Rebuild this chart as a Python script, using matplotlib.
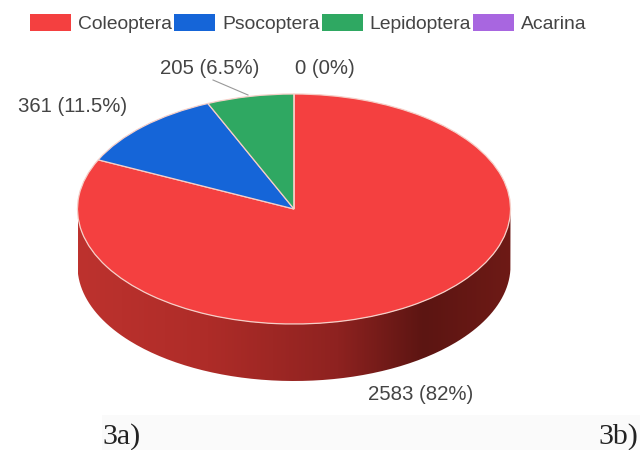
import numpy as np
import matplotlib
matplotlib.use("Agg")
import matplotlib.pyplot as plt
from matplotlib.patches import Patch, PathPatch, Rectangle
from matplotlib.path import Path
from matplotlib.colors import LinearSegmentedColormap

categories = ["Coleoptera", "Psocoptera", "Lepidoptera", "Acarina"]
values = [2583, 361, 205, 0]
data_labels = ["2583 (82%)", "361 (11.5%)", "205 (6.5%)", "0 (0%)"]
colors = ["#f44040", "#1565d8", "#2fa862", "#a866e0"]

W, H = 644, 450
cx, cy, rx, ry, depth = 294, 209, 216.5, 115, 57

plt.rcParams["font.family"] = ["Liberation Sans", "DejaVu Sans"]
fig = plt.figure(figsize=(W / 100, H / 100), dpi=100)
ax = fig.add_axes([0, 0, 1, 1])

# unit-circle data space mapped on to the pixel ellipse
def px(x, y):
    return (x - cx) / rx, (cy - y) / ry

ax.pie(values, colors=colors, startangle=90, counterclock=False, radius=1,
       center=(0, 0), wedgeprops=dict(edgecolor="#f6cfc8", linewidth=0.9, zorder=5))
ax.set_aspect("auto")
ax.axis("off")

# side wall of the pie
d = depth / ry
t = np.linspace(np.pi, 2 * np.pi, 200)
top = np.c_[np.cos(t), np.sin(t)]
bot = np.c_[np.cos(t[::-1]), np.sin(t[::-1]) - d]
verts = np.r_[top, bot, top[:1]]
clip = PathPatch(Path(verts), transform=ax.transData, fc="none", ec="none")
ax.add_patch(clip)
cmap = LinearSegmentedColormap.from_list("side", [(0, "#bd322e"), (0.3, "#ae2c28"), (0.6, "#8e2220"),
                                                   (0.8, "#5c1512"), (1, "#6e1a16")])
im = ax.imshow(np.linspace(0, 1, 256)[None, :], cmap=cmap, aspect="auto",
               extent=(-1, 1, -1 - d, 0), zorder=3)
im.set_clip_path(clip)
ax.set_xlim(px(0, 0)[0], px(W, 0)[0])
ax.set_ylim(px(0, H)[1], px(0, 0)[1])

# faint panel behind the caption row
x0, y1 = px(102, 450)
x1, y0 = px(640, 415)
ax.add_patch(Rectangle((x0, y1), x1 - x0, y0 - y1, fc="#fafafa", ec="none", zorder=1))

# legend
handles = [Patch(fc=c, ec="none") for c in colors]
leg = ax.legend(handles, categories, ncol=4, frameon=False, fontsize=13.9,
                labelcolor="#444444", handlelength=2.12, handleheight=0.98,
                handletextpad=0.36, columnspacing=0.12, borderpad=0, borderaxespad=0,
                loc="upper left", bbox_to_anchor=(30 / W, 1 - 13.5 / H))

# data labels
lab_pos = [(421, 395), (72.5, 107), (210, 69), (324.5, 69)]
for s, (x, y) in zip(data_labels, lab_pos):
    ax.text(*px(x, y), s, ha="center", va="center", fontsize=14.7, color="#444444", zorder=8)
ax.plot(*zip(px(213, 80), px(248, 95)), color="#999999", lw=0.8, zorder=8)

# captions
ax.text(*px(122, 443.5), "3a)", family="Liberation Serif", fontsize=21.5, color="#222222",
        ha="center", va="baseline", zorder=8)
ax.text(*px(618, 443.5), "3b)", family="Liberation Serif", fontsize=21.5, color="#222222",
        ha="center", va="baseline", zorder=8)

fig.savefig("out.png", dpi=100)
